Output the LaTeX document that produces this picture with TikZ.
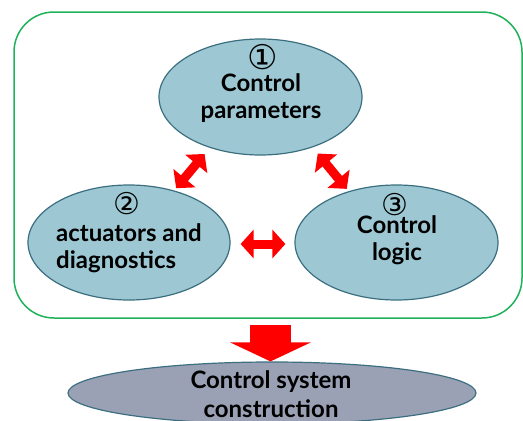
\documentclass[tikz,border=0pt]{standalone}
\usepackage{fontspec}
\setmainfont{Lato}
\newfontfamily\symfont{DejaVu Sans}
\usetikzlibrary{arrows.meta,calc,shapes.geometric}
\definecolor{bubble}{HTML}{9DC8D3}
\definecolor{bubbleline}{HTML}{3B6F80}
\definecolor{basefill}{HTML}{9BA1B5}
\definecolor{framegreen}{HTML}{1FB25A}

\begin{document}
\begin{tikzpicture}[x=1pt,y=-1pt,font=\bfseries\fontsize{24}{27}\selectfont,
  bubble/.style={ellipse,draw=bubbleline,fill=bubble,line width=1.2pt,inner sep=0pt},
  lbl/.style={align=center,inner sep=0pt},
  num/.style={font=\symfont\fontsize{#1}{#1}\selectfont,inner sep=0pt,
              text height=0.68em,text depth=0.06em},
  link/.style={red,line width=9pt,{Triangle[width=28pt,length=13pt]}-{Triangle[width=28pt,length=13pt]}}]
  \useasboundingbox (0,0) rectangle (523,421);

  % frame round the three parts
  \node[draw=framegreen,line width=1.5pt,rounded corners=40pt,
        minimum width=508pt,minimum height=306pt] (frame) at (268,165) {};

  % the three parts
  \node[bubble,minimum width=203pt,minimum height=116pt] (param) at (260.5,97) {};
  \node[bubble,minimum width=202pt,minimum height=115pt] (act) at (129,242.5) {};
  \node[bubble,minimum width=203pt,minimum height=115pt] (logic) at (396.5,242.5) {};
  \node[num=34] (n1) at (263,66) {①};
  \node[num=30] (n2) at (127,211) {②};
  \node[num=30] (n3) at (395,212) {③};
  \node[lbl,anchor=base] (paramtxt) at (261,118) {Control\\parameters};
  \node[lbl,align=left,anchor=base west] (acttxt) at (56,268) {actuators and\\diagnostics};
  \node[lbl,anchor=base] (logictxt) at (397,260) {Control\\logic};

  % links between the parts
  \draw[link,shorten <=8pt,shorten >=3pt] (param.225) -- (act.49);
  \draw[link,shorten <=8pt,shorten >=3pt] (param.-44) -- (logic.133);
  \draw[link,shorten <=10pt,shorten >=9pt] ([yshift=-1.5pt]act.east) -- ([yshift=-1.5pt]logic.west);

  % result
  \node[ellipse,draw=bubbleline,fill=basefill,line width=1.2pt,inner sep=0pt,
        minimum width=408pt,minimum height=62pt] (base) at (272,393) {};
  \node[lbl,anchor=base,font=\bfseries\fontsize{24}{29}\selectfont] (basetxt) at (271,417) {Control system\\construction};
  \draw[red,line width=41pt,-{Triangle[width=80pt,length=19pt]}]
    ([xshift=2.5pt,yshift=-6pt]frame.south) -- ([xshift=2.5pt]frame.south |- base.north);
\end{tikzpicture}
\end{document}
